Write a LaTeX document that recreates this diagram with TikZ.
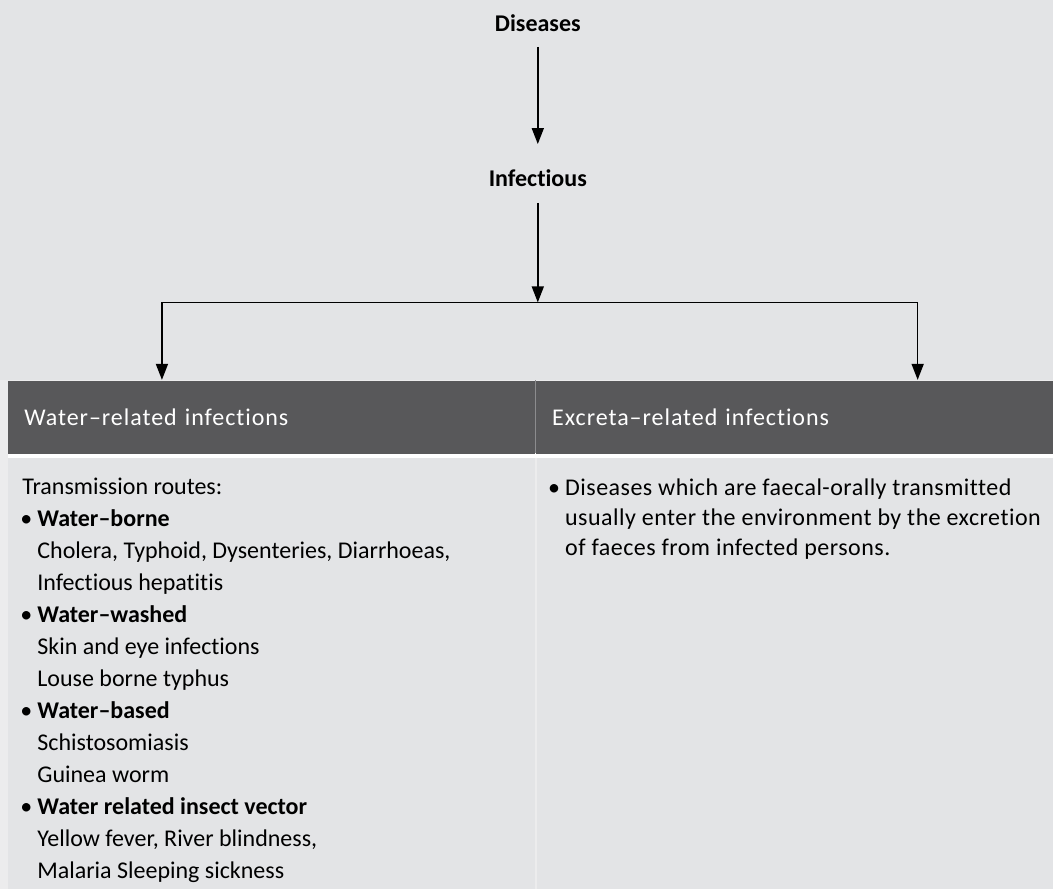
\documentclass[tikz,border=0pt]{standalone}
\usepackage{fontspec}
\setmainfont{Carlito}[Ligatures={TeX,NoCommon}]
\usetikzlibrary{arrows.meta,positioning,calc}
\definecolor{PanelGrey}{HTML}{E3E4E6}
\definecolor{MarginGrey}{HTML}{ECECED}
\definecolor{HeadGrey}{HTML}{58585A}
\definecolor{RuleGrey}{HTML}{8C8C8E}
\newcommand{\itembul}{\llap{\textbullet\hspace{2.5pt}}}

\begin{document}
\begin{tikzpicture}[x=0.5pt, y=-0.5pt,
  title/.style={font=\fontsize{12pt}{16pt}\selectfont\bfseries, inner sep=0pt},
  headcell/.style={anchor=north west, fill=HeadGrey, text=white, align=left,
                   font=\fontsize{12pt}{16pt}\selectfont\addfontfeature{LetterSpace=4},
                   inner xsep=8pt, inner ysep=0pt, minimum height=36.5pt},
  bodycell/.style={anchor=north west, align=left,
                   font=\fontsize{12pt}{16pt}\selectfont, inner sep=0pt},
  arr/.style={-{Triangle[width=6pt,length=8pt]}, line width=0.8pt, draw=black}
]
  % backgrounds
  \fill[PanelGrey] (0,0) rectangle (1053,380);
  \fill[MarginGrey] (0,380) rectangle (1053,889);
  \fill[RuleGrey] (535,380) rectangle (536,453);
  \fill[white] (8,453) rectangle (1053,458);
  \fill[PanelGrey] (8,458) rectangle (535,889);
  \fill[PanelGrey] (537.5,458) rectangle (1053,889);

  \node[title] (dis) at (538,23) {Diseases};
  \node[title] (inf) at (538,178) {Infectious};

  \node[headcell, minimum width=263.5pt, text width=247.5pt] (water) at (8,381)
        {Water–related infections};
  \node[headcell, minimum width=258.5pt, text width=242.5pt] (excreta) at (536,381)
        {Excreta–related infections};

  \node[bodycell] (routes) at (37,478)
        {\hspace*{-7.5pt}Transmission routes:\\
         \itembul\textbf{Water–borne}\\
         Cholera, Typhoid, Dysenteries, Diarrhoeas,\\
         Infectious hepatitis\\
         \itembul\textbf{Water–washed}\\
         Skin and eye infections\\
         Louse borne typhus\\
         \itembul\textbf{Water–based}\\
         Schistosomiasis\\
         Guinea worm\\
         \itembul\textbf{Water related insect vector}\\
         Yellow fever, River blindness,\\
         Malaria Sleeping sickness};
  \node[bodycell, font=\fontsize{12pt}{15pt}\selectfont\addfontfeature{LetterSpace=2}] (faecal) at (565,479)
        {\itembul Diseases which are faecal-orally transmitted\\
         usually enter the environment by the excretion\\
         of faeces from infected persons.};

  \coordinate (split) at (538,302.5);
  \coordinate (wtop) at (162,380);
  \coordinate (etop) at (918,380);

  \draw[arr, shorten <=7.5pt, shorten >=12.5pt] (dis) -- (inf);
  \draw[arr, shorten <=8pt] (inf) -- (split);
  \draw[arr] (split) -| (wtop);
  \draw[arr] (split) -| (etop);
\end{tikzpicture}
\end{document}
